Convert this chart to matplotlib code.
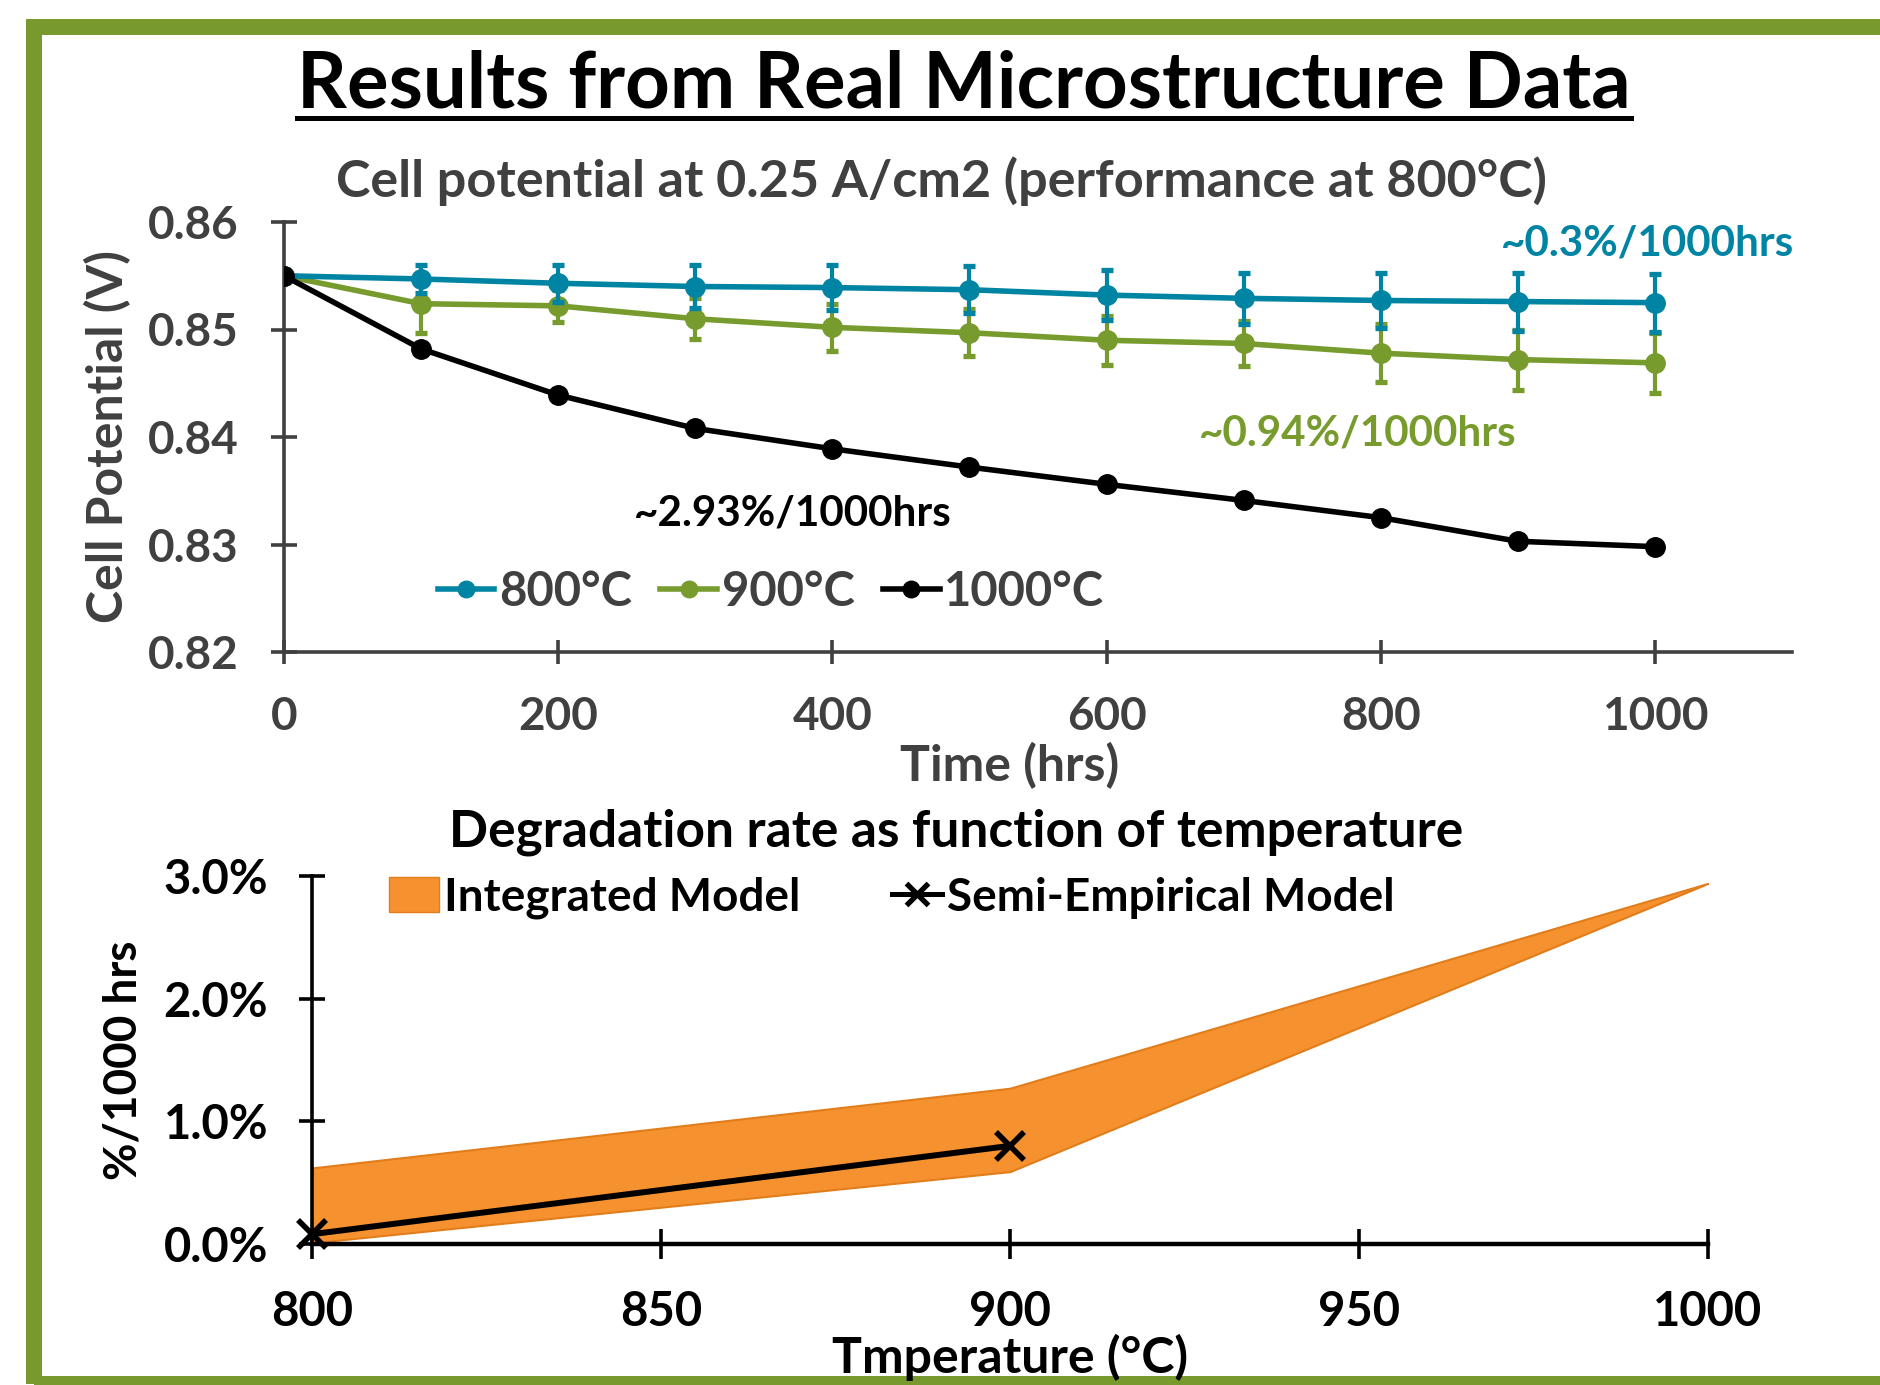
import matplotlib
matplotlib.use('Agg')
import matplotlib.pyplot as plt
from matplotlib.lines import Line2D
from matplotlib.patches import Rectangle, Patch

plt.rcParams['font.family'] = ['Lato', 'DejaVu Sans']
plt.rcParams['font.weight'] = 'bold'
plt.rcParams['axes.labelweight'] = 'bold'

# ---------------- data ----------------
hours = [0, 100, 200, 300, 400, 500, 600, 700, 800, 900, 1000]

v_800 = [0.8550, 0.8547, 0.8543, 0.8540, 0.8539, 0.8537, 0.8532, 0.8529, 0.8527, 0.8526, 0.8525]
err_800 = [0, 0.0013, 0.0017, 0.0020, 0.0021, 0.0022, 0.0023, 0.0024, 0.0026, 0.0027, 0.0027]

v_900 = [0.8550, 0.8524, 0.8522, 0.8510, 0.8502, 0.8497, 0.8490, 0.8487, 0.8478, 0.8472, 0.8469]
err_900 = [0, 0.0027, 0.0015, 0.0019, 0.0022, 0.0022, 0.0023, 0.0021, 0.0027, 0.0028, 0.0028]

v_1000 = [0.8550, 0.8482, 0.8439, 0.8408, 0.8389, 0.8372, 0.8356, 0.8341, 0.8325, 0.8303, 0.8298]

series_labels = ['800°C', '900°C', '1000°C']
rate_labels = ['~0.3%/1000hrs', '~0.94%/1000hrs', '~2.93%/1000hrs']

temps = [800, 900, 1000]
band_low = [0.01, 0.59, 2.94]     # %/1000 hrs
band_high = [0.62, 1.27, 2.94]
semi_temps = [800, 900]
semi_rate = [0.08, 0.80]

top_yticks = [0.82, 0.83, 0.84, 0.85, 0.86]
top_xticks = [0, 200, 400, 600, 800, 1000]
bot_yticks = [0, 1, 2, 3]
bot_ytick_labels = ['0.0%', '1.0%', '2.0%', '3.0%']
bot_xticks = [800, 850, 900, 950, 1000]

TEAL = '#0084A3'
GREEN = '#779B2D'
GRAY = '#404040'
ORANGE = '#F5922F'
ORANGE_EDGE = '#E27D1C'
FRAME = '#77992E'

W, H = 1881, 1385
fig = plt.figure(figsize=(W / 100, H / 100), dpi=100)

def fx(px):
    return px / W

def fy(px):
    return 1 - px / H

# green frame (drawn behind everything)
fig.patches.append(Rectangle((fx(34), fy(1384)), 1.1, fy(27) - fy(1384), transform=fig.transFigure,
                             fill=False, edgecolor=FRAME, linewidth=11.5, zorder=-1))

# titles
title = fig.text(fx(964), fy(108), 'Results from Real Microstructure Data', ha='center', va='baseline',
                 fontsize=56, color='black')
fig.text(fx(941), fy(197), 'Cell potential at 0.25 A/cm2 (performance at 800°C)', ha='center',
         va='baseline', fontsize=37.5, color=GRAY)
fig.text(fx(956), fy(846), 'Degradation rate as function of temperature', ha='center', va='baseline',
         fontsize=37, color='black')

#########################   Cell potential vs time   #########################
ax1 = fig.add_axes([fx(284), fy(652), fx(1792) - fx(284), fy(222) - fy(652)])

ax1.errorbar(hours, v_900, yerr=err_900, fmt='none', ecolor=GREEN, elinewidth=3, capsize=4.5,
             capthick=3.8, zorder=2)
ax1.plot(hours, v_900, color=GREEN, lw=4, marker='o', ms=14, label=series_labels[1], zorder=2)
ax1.errorbar(hours, v_800, yerr=err_800, fmt='none', ecolor=TEAL, elinewidth=3, capsize=4.5,
             capthick=3.8, zorder=3)
ax1.plot(hours, v_800, color=TEAL, lw=4, marker='o', ms=14, label=series_labels[0], zorder=3)
ax1.plot(hours, v_1000, color='black', lw=4, marker='o', ms=14, label=series_labels[2], zorder=4)

ax1.set_xlim(0, 1100)
ax1.set_ylim(0.82, 0.86)
ax1.set_xticks(top_xticks)
ax1.set_yticks(top_yticks)
ax1.set_yticklabels([f'{v:.2f}' for v in top_yticks])
for s in ['top', 'right']:
    ax1.spines[s].set_visible(False)
for s in ['left', 'bottom']:
    ax1.spines[s].set_color(GRAY)
    ax1.spines[s].set_linewidth(2.6)
ax1.tick_params(axis='y', direction='inout', length=19, width=2.6, color=GRAY, labelcolor=GRAY,
                labelsize=33, pad=23)
ax1.tick_params(axis='x', direction='inout', length=17, width=2.6, color=GRAY, labelcolor=GRAY,
                labelsize=33, pad=23)
ax1.patch.set_alpha(0)

ax1.set_xlabel('Time (hrs)', fontsize=36, color=GRAY)
ax1.xaxis.set_label_coords(0.481, -0.209)
ax1.xaxis.label.set_va('top')
ax1.set_ylabel('Cell Potential (V)', fontsize=36, color=GRAY)
ax1.yaxis.set_label_coords(-0.1167, 0.502)
ax1.yaxis.label.set_va('center')

ax1.text(888, 0.85693, rate_labels[0], color=TEAL, fontsize=30.3, ha='left', va='baseline')
ax1.text(667, 0.83924, rate_labels[1], color=GREEN, fontsize=30.3, ha='left', va='baseline')
ax1.text(255, 0.83179, rate_labels[2], color='black', fontsize=30.3, ha='left', va='baseline')

handles, labels = ax1.get_legend_handles_labels()
order = [1, 0, 2]
leg1 = ax1.legend([handles[i] for i in order], [labels[i] for i in order], loc='center',
                  bbox_to_anchor=(0.323, 0.14), ncol=3, frameon=False, fontsize=34,
                  handlelength=1.2, handletextpad=0.1, columnspacing=0.6, markerscale=0.85)
for t in leg1.get_texts():
    t.set_color(GRAY)

#########################   Degradation vs temperature   #########################
ax2 = fig.add_axes([fx(312), fy(1244), fx(1708) - fx(312), fy(876) - fy(1244)])

ax2.fill_between(temps, band_low, band_high, facecolor=ORANGE, edgecolor=ORANGE_EDGE, linewidth=1.5,
                 label='Integrated Model', zorder=2)
ax2.plot(semi_temps, semi_rate, color='black', lw=4.3, marker='x', ms=20, mew=4,
         label='Semi-Empirical Model', zorder=3, clip_on=False)

ax2.set_xlim(800, 1000)
ax2.set_ylim(0, 3.0)
ax2.set_xticks(bot_xticks)
ax2.set_yticks(bot_yticks)
ax2.set_yticklabels(bot_ytick_labels)
for s in ['top', 'right']:
    ax2.spines[s].set_visible(False)
for s in ['left', 'bottom']:
    ax2.spines[s].set_color('black')
    ax2.spines[s].set_linewidth(2.6)
ax2.spines['bottom'].set_linewidth(3.2)
ax2.tick_params(axis='y', direction='inout', length=19, width=2.6, labelsize=34, pad=22)
ax2.tick_params(axis='x', direction='inout', length=22, width=2.6, labelsize=34, pad=22)
ax2.patch.set_alpha(0)

ax2.set_xlabel('Tmperature (°C)', fontsize=36)
ax2.xaxis.set_label_coords(0.5, -0.245)
ax2.xaxis.label.set_va('top')
ax2.set_ylabel('%/1000 hrs', fontsize=33)
ax2.yaxis.set_label_coords(-0.135, 0.5)
ax2.yaxis.label.set_va('center')

h2 = [Patch(facecolor=ORANGE, edgecolor=ORANGE_EDGE),
      Line2D([], [], color='black', lw=3.6, marker='x', ms=16, mew=3.8)]
ax2.legend(h2, ['Integrated Model', 'Semi-Empirical Model'], loc='center', bbox_to_anchor=(0.415, 0.94),
           ncol=2, frameon=False, fontsize=33, handlelength=1.1, handleheight=0.8, handletextpad=0.1,
           columnspacing=2.0)

# underline for the main title
fig.canvas.draw()
bb = title.get_window_extent()
fig.add_artist(Line2D([bb.x0 / W, bb.x1 / W], [fy(118), fy(118)], color='black', lw=3.6,
                      transform=fig.transFigure))

fig.savefig('out.png', dpi=100)
